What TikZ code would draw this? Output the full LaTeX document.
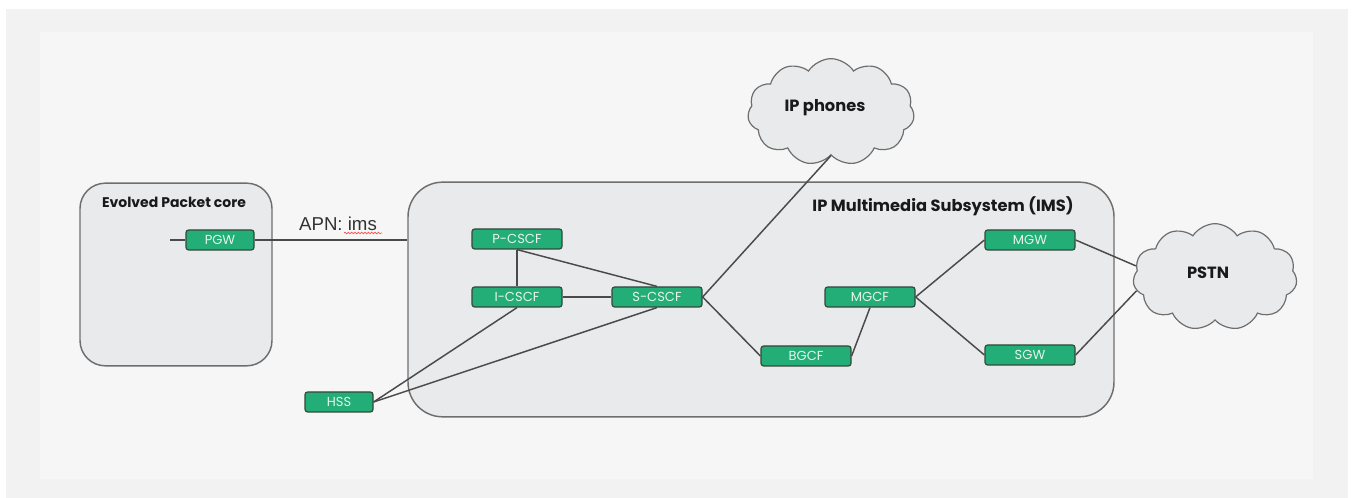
\documentclass[tikz,border=0pt]{standalone}
\usepackage{fontspec}
\setmainfont{Poppins}
\newfontfamily\apnfont{Liberation Sans}
\usetikzlibrary{positioning,shapes.symbols,decorations.pathmorphing}
\definecolor{framegray}{HTML}{F2F2F2}
\definecolor{panelgray}{HTML}{F5F6F5}
\definecolor{areafill}{HTML}{E9EAEC}
\definecolor{arealine}{HTML}{6E6E6E}
\definecolor{nfgreen}{HTML}{22AE76}
\definecolor{nfline}{HTML}{34483C}
\definecolor{nftext}{HTML}{E6F4EC}
\definecolor{wiregray}{HTML}{4A4A4A}
\tikzset{%
	area/.style   = {draw=arealine, fill=areafill, line width=1.1pt, rectangle},
	nf/.style     = {draw=nfline, fill=nfgreen, line width=0.9pt, rectangle, rounded corners=2pt, minimum width=67.5pt, minimum height=15pt, inner sep=0pt, text=nftext, font=\fontsize{9.8}{10}\selectfont},
	nfsmall/.style= {nf, minimum width=51pt},
	title/.style  = {font=\bfseries\fontsize{10.5}{12}\selectfont, text=black!90},
	bigtitle/.style = {title, font=\bfseries\fontsize{12.2}{14}\selectfont},
	cloudy/.style = {draw=arealine, fill=areafill, line width=0.9pt, cloud, cloud puffs=11, cloud puff arc=115, aspect=1.5, inner sep=0pt},
	wire/.style   = {draw=wiregray, line width=1.1pt},
}
\begin{document}
\begin{tikzpicture}[x=0.75pt,y=-0.75pt]
	\useasboundingbox (0,0) rectangle (1354,498);
	\fill[framegray] (6,9) rectangle (1348,498);  % outer frame
	\fill[panelgray] (40,32) rectangle (1313,479); % inner panel

	% domains
	\node[area, rounded corners=19pt, minimum width=144pt, minimum height=137pt] (epc) at (176,274.5) {};
	\node[area, rounded corners=26pt, minimum width=529.5pt, minimum height=176pt] (ims) at (761,299.5) {};
	\node[title] (epctitle) at (174,202) {Evolved Packet core};
	\node[bigtitle] (imstitle) at (943,206) {IP Multimedia Subsystem (IMS)};

	% clouds
	\node[cloudy, minimum width=125pt, minimum height=80pt] (phones) at (831,112) {};
	\node[bigtitle] at (825,108) {IP phones};
	\node[cloudy, minimum width=123pt, minimum height=80pt] (pstn) at (1215,277) {};
	\node[bigtitle] at (1208,273) {PSTN};

	% network functions
	\node[nfsmall] (pgw) at (220,240) {PGW};
	\node[nf] (pcscf) at (517,239) {P-CSCF};
	\node[nf] (icscf) at (517,297) {I-CSCF};
	\node[nf] (scscf) at (657,297) {S-CSCF};
	\node[nfsmall] (hss) at (339,402) {HSS};
	\node[nf] (bgcf) at (806,356) {BGCF};
	\node[nf] (mgcf) at (870,297) {MGCF};
	\node[nf] (mgw) at (1030,240) {MGW};
	\node[nf] (sgw) at (1030,355) {SGW};

	% APN label
	\node[font=\apnfont\fontsize{14}{16}\selectfont, text=black!80] (apn) at (338,224) {APN: ims};
	\coordinate (sqa) at (344,233);
	\coordinate (sqb) at (382,233);
	\draw[red!70, line width=0.5pt, decorate, decoration={snake, amplitude=0.6pt, segment length=2.5pt}] (sqa) -- (sqb);

	% links
	\coordinate (stub) at (170,240);
	\draw[wire] (stub) -- (pgw.west);
	\draw[wire] (pgw.east) -- (pgw.east -| ims.west);
	\draw[wire] (pcscf.south) -- (icscf.north);
	\draw[wire] (pcscf.south) -- (scscf.north);
	\draw[wire] (icscf.east) -- (scscf.west);
	\draw[wire] (icscf.south) -- (hss.east);
	\draw[wire] (scscf.south) -- (hss.east);
	\draw[wire] (scscf.east) -- (phones.south);
	\draw[wire] (scscf.east) -- (bgcf.west);
	\draw[wire] (bgcf.east) -- (mgcf.south);
	\draw[wire] (mgcf.east) -- (mgw.west);
	\draw[wire] (mgcf.east) -- (sgw.west);
	\draw[wire] (mgw.east) -- (pstn.172);
	\draw[wire] (sgw.east) -- (pstn.190);
\end{tikzpicture}
\end{document}
